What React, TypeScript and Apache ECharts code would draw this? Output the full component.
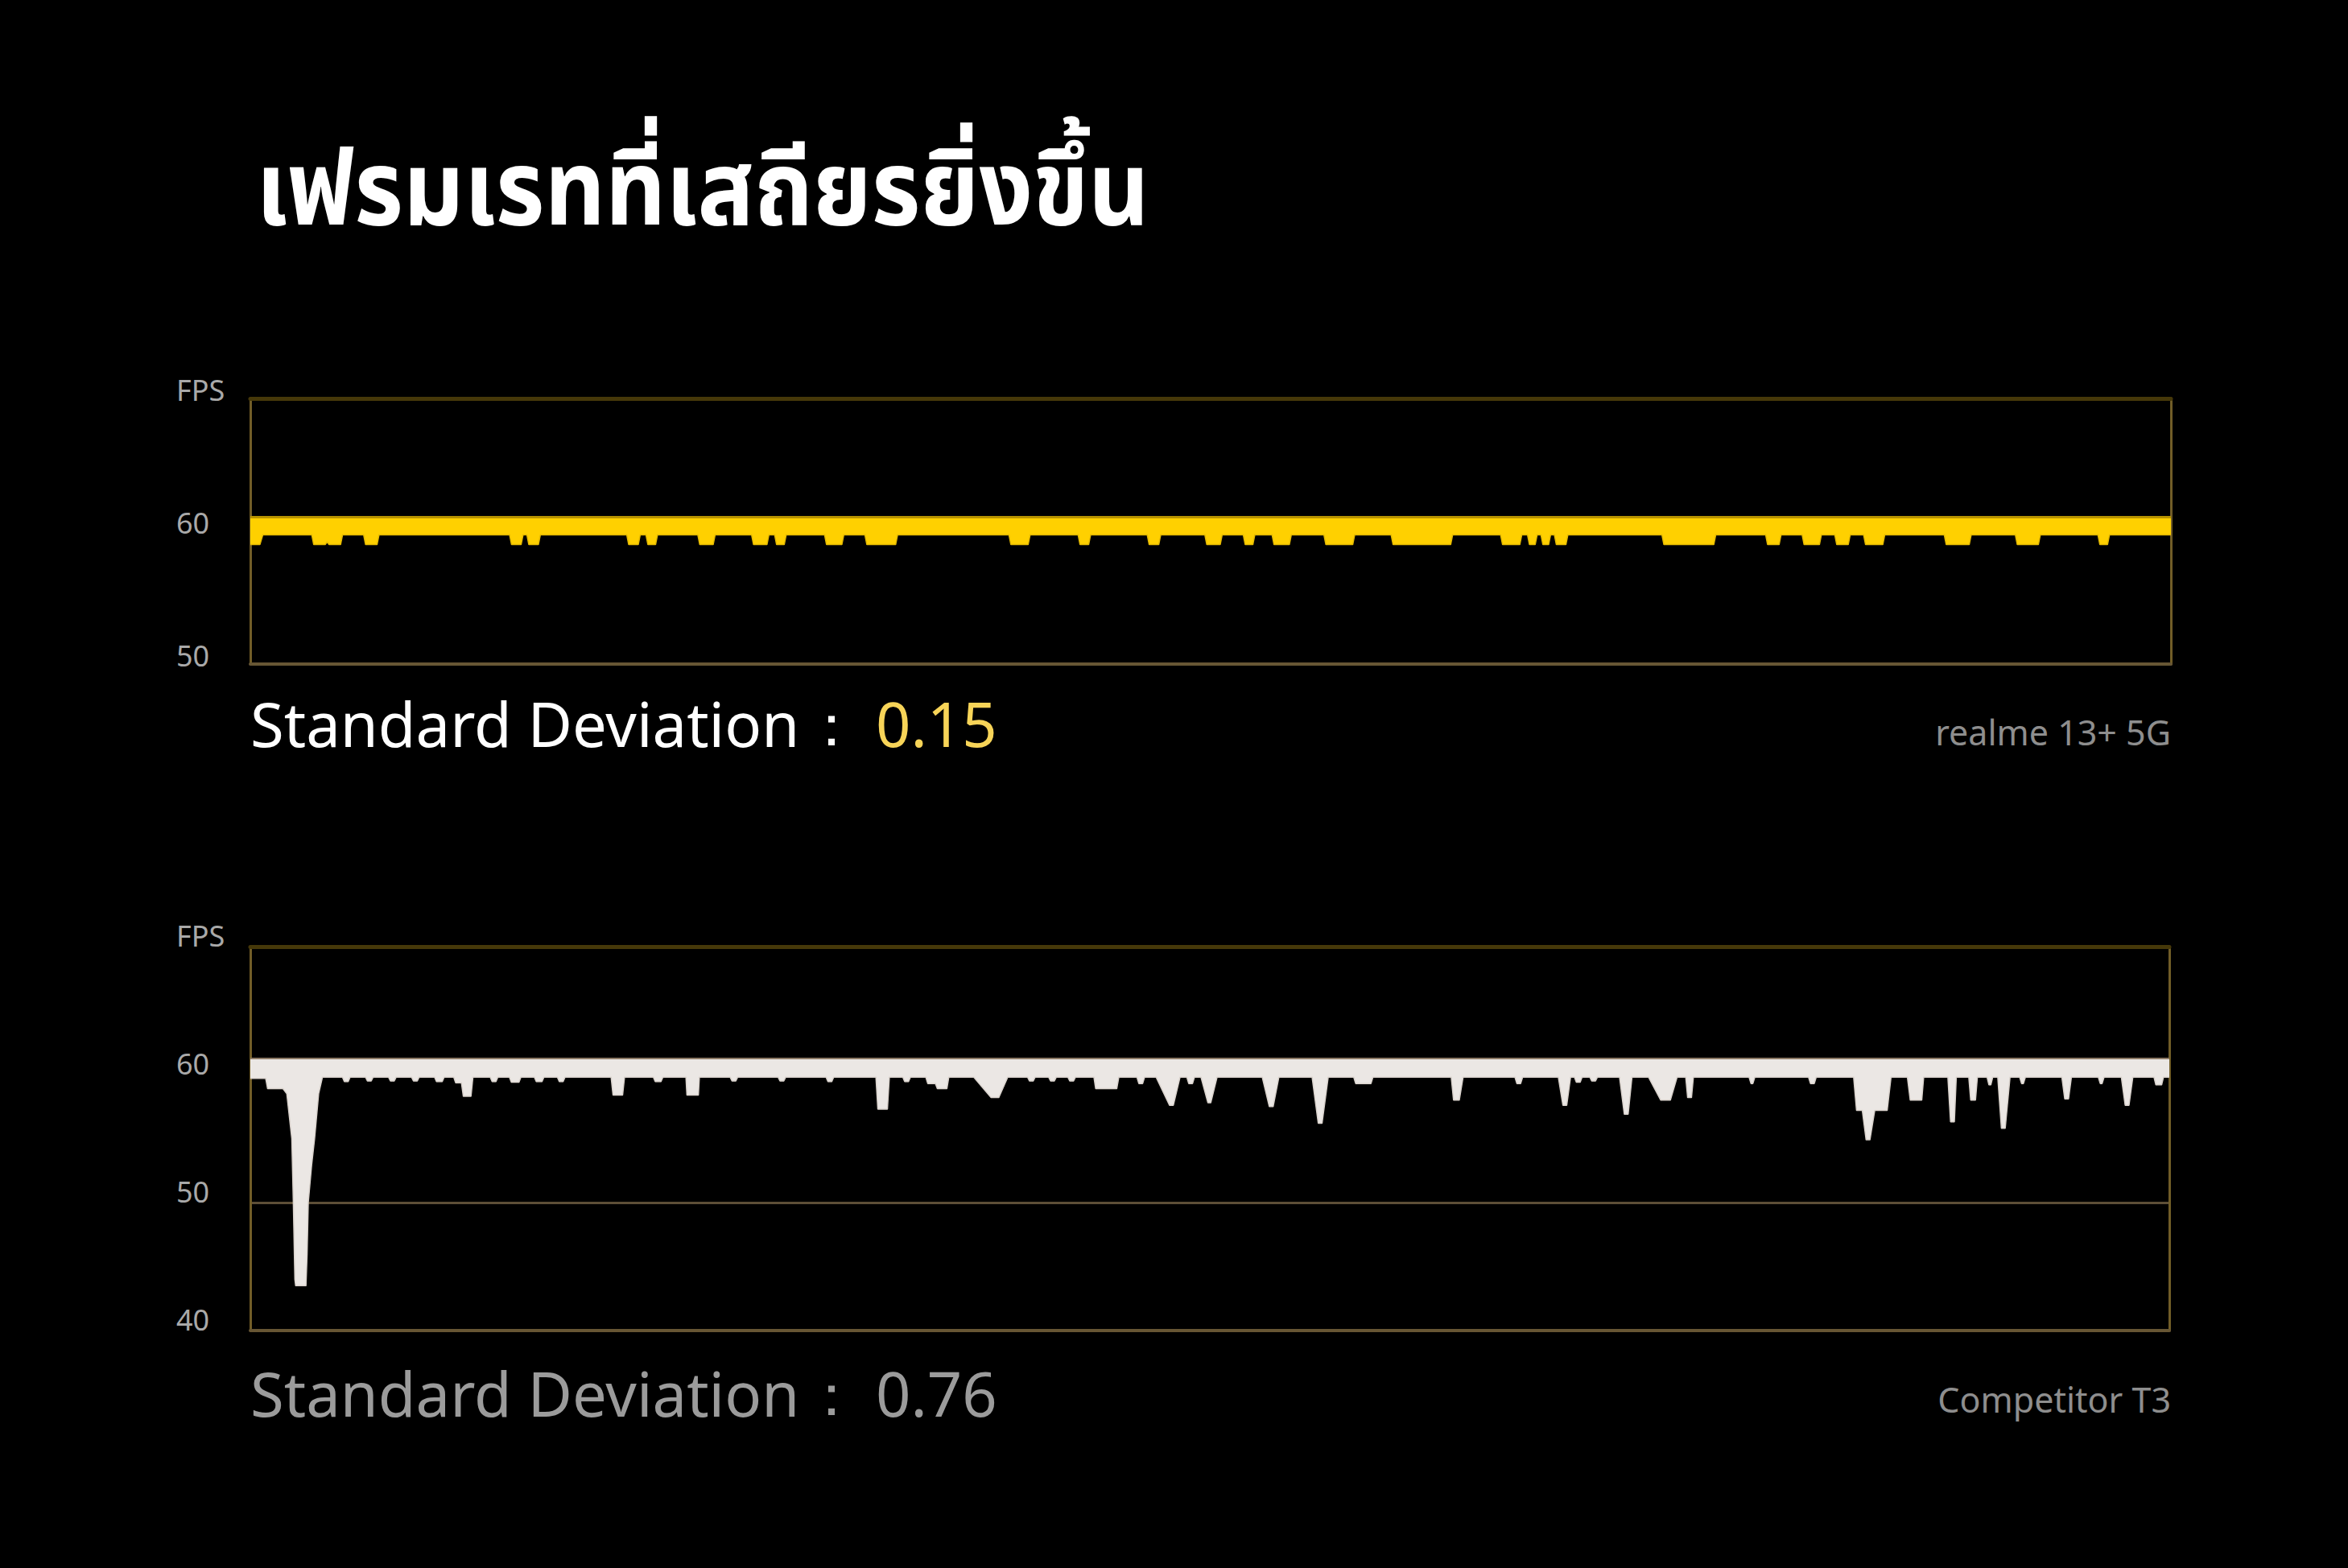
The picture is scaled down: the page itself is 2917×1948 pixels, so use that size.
import React, { useEffect, useRef } from "react";
import * as echarts from "echarts";

// ---------- texts ----------
const TITLE = "เฟรมเรทที่เสถียรยิ่งขึ้น";
const SD_LABEL = "Standard Deviation";
const SD_COLON = "：";
const DEVICE_NAMES = ["realme 13+ 5G", "Competitor T3"];
const SD_VALUES = ["0.15", "0.76"];
const Y_TOP_LABEL = "FPS";

// ---------- axes ----------
const realmeYRange = [50, 70];
const competitorYRange = [40, 70];
const Y_INTERVAL = 10;
const TIME_RANGE = [0, 1000];

// upper edge of the FPS band (flat)
const REALME_BAND_TOP = 61.08;
const COMPETITOR_BAND_TOP = 61.3;

// ---------- data: [time, fps] (lower edge of the band) ----------
const realmeFrames: [number, number][] = [
  [0, 59.0], [5, 59.0], [6.5, 59.72],
  [32, 59.72], [33, 59.0], [39, 59.0], [40, 59.2], [41, 59.0], [47, 59.0], [48, 59.72],
  [59, 59.72], [60, 59.0], [66, 59.0], [67, 59.72],
  [135, 59.72], [136, 59.0], [141, 59.0], [142, 59.72],
  [144, 59.72], [145, 59.0], [150, 59.0], [151, 59.72],
  [196, 59.72], [197, 59.0], [202, 59.0], [203, 59.72],
  [206, 59.72], [207, 59.0], [211, 59.0], [212, 59.72],
  [233, 59.72], [234, 59.0], [241, 59.0], [242, 59.72],
  [261, 59.72], [262, 59.0], [269, 59.0], [270, 59.72],
  [273, 59.72], [274, 59.0], [278, 59.0], [279, 59.72],
  [299, 59.72], [300, 59.0], [308, 59.0], [309, 59.72],
  [320, 59.72], [321, 59.0], [336, 59.0], [337, 59.72],
  [395, 59.72], [396, 59.0], [405, 59.0], [406, 59.72],
  [431, 59.72], [432, 59.0], [436.5, 59.0], [437.5, 59.72],
  [467, 59.72], [468, 59.0], [473, 59.0], [474, 59.72],
  [497, 59.72], [498, 59.0], [505, 59.0], [506, 59.72],
  [517, 59.72], [518, 59.0], [522, 59.0], [523, 59.72],
  [532, 59.72], [533, 59.0], [541, 59.0], [542, 59.72],
  [559, 59.72], [560, 59.0], [574, 59.0], [575, 59.72],
  [594, 59.72], [595, 59.0], [625, 59.0], [626, 59.72],
  [651, 59.72], [652, 59.0], [661, 59.0], [662, 59.72],
  [665, 59.72], [666, 59.0], [669, 59.0], [670, 59.72],
  [672, 59.72], [673, 59.0], [676, 59.0], [677, 59.72],
  [679, 59.72], [680, 59.0], [685, 59.0], [686, 59.72],
  [735, 59.72], [736, 59.0], [762, 59.0], [763, 59.72],
  [789, 59.72], [790, 59.0], [796, 59.0], [797, 59.72],
  [808, 59.72], [809, 59.0], [817, 59.0], [818, 59.72],
  [825, 59.72], [826, 59.0], [832, 59.0], [833, 59.72],
  [840, 59.72], [841, 59.0], [850, 59.0], [851, 59.72],
  [882, 59.72], [883, 59.0], [895, 59.0], [896, 59.72],
  [919, 59.72], [920, 59.0], [931, 59.0], [932, 59.72],
  [962, 59.72], [963, 59.0], [967, 59.0], [968, 59.72],
  [1000, 59.72],
];

const competitorFrames: [number, number][] = [
  [0, 59.7], [8, 59.7], [9, 58.9], [16, 58.9],
  [17, 58.9], [19, 58.5], [21.6, 55.0], [22.4, 50.0], [23.2, 44.0], [23.6, 43.5], [29, 43.5],
  [29.6, 46.0], [30.2, 50.0], [32, 53.0], [33.5, 55.0], [35.6, 58.5], [37.6, 59.8],
  [48, 59.8], [49, 59.45], [51, 59.45], [52, 59.8],
  [60, 59.8], [61, 59.5], [63, 59.5], [64, 59.8],
  [72, 59.8], [73, 59.5], [75, 59.5], [76, 59.8],
  [84, 59.8], [85, 59.5], [87, 59.5], [88, 59.8],
  [96, 59.8], [97, 59.45], [100, 59.45], [101, 59.8],
  [106, 59.8], [107, 59.35], [110, 59.35], [111, 58.3], [115, 58.3], [116, 59.8],
  [125, 59.8], [126, 59.45], [128, 59.45], [129, 59.8],
  [135, 59.8], [136, 59.4], [140, 59.4], [141, 59.8],
  [148, 59.8], [149, 59.45], [152, 59.45], [153, 59.8],
  [160, 59.8], [161, 59.45], [163, 59.45], [164, 59.8],
  [188, 59.8], [189, 58.4], [194, 58.4], [195, 59.8],
  [210, 59.8], [211, 59.45], [214, 59.45], [215, 59.8],
  [227, 59.8], [227.5, 58.4], [233.5, 58.4], [234, 59.8],
  [250, 59.8], [251, 59.5], [253, 59.5], [254, 59.8],
  [275, 59.8], [276, 59.5], [278, 59.5], [279, 59.8],
  [300, 59.8], [301, 59.45], [303, 59.45], [304, 59.8],
  [326, 59.8], [327, 57.3], [332, 57.3], [333, 59.8],
  [340, 59.8], [341, 59.45], [343, 59.45], [344, 59.8],
  [352, 59.8], [353, 59.3], [357, 59.3], [358, 58.9], [363, 58.9], [364, 59.8],
  [377, 59.8], [386, 58.2], [390, 58.2], [394.7, 59.8],
  [405, 59.8], [406, 59.5], [408, 59.5], [409, 59.8],
  [416, 59.8], [417, 59.5], [419, 59.5], [420, 59.8],
  [426, 59.8], [427, 59.5], [429, 59.5], [430, 59.8],
  [439.6, 59.8], [440.5, 58.9], [451.5, 58.9], [452.6, 59.8],
  [462, 59.8], [463, 59.3], [465, 59.3], [466, 59.8],
  [472, 59.8], [479, 57.6], [481, 57.6], [484.5, 59.8],
  [488, 59.8], [489, 59.3], [491, 59.3], [492, 59.8],
  [495.4, 59.8], [499, 57.8], [500.5, 57.8], [503.8, 59.8],
  [527.3, 59.8], [531, 57.5], [533, 57.5], [536, 59.8],
  [553.3, 59.8], [556.5, 56.2], [558.5, 56.2], [561.7, 59.8],
  [575, 59.8], [576, 59.3], [584, 59.3], [585, 59.8],
  [625.8, 59.8], [627, 58.0], [630, 58.0], [632, 59.8],
  [659, 59.8], [660, 59.3], [662, 59.3], [663, 59.8],
  [681.6, 59.8], [684, 57.6], [686, 57.6], [688, 59.8],
  [690, 59.8], [691, 59.4], [693, 59.4], [694, 59.8],
  [698, 59.8], [699, 59.5], [701, 59.5], [702, 59.8],
  [713.5, 59.8], [716, 56.9], [718, 56.9], [720, 59.8],
  [728.6, 59.8], [735, 58.0], [740, 58.0], [743.5, 59.8],
  [748, 59.8], [749, 58.2], [751, 58.2], [752, 59.8],
  [781, 59.8], [782, 59.3], [783, 59.3], [784, 59.8],
  [812, 59.8], [813, 59.3], [815, 59.3], [816, 59.8],
  [835.5, 59.8], [837, 57.2], [840, 57.2], [842, 54.9], [844, 54.9], [846.5, 57.2], [853, 57.2], [855, 59.8],
  [863.5, 59.8], [865, 58.0], [871, 58.0], [872, 59.8],
  [884.6, 59.8], [886, 56.3], [888, 56.3], [889, 59.8],
  [895.5, 59.8], [896.5, 58.0], [899, 58.0], [900, 59.8],
  [905, 59.8], [906, 59.2], [907, 59.2], [908, 59.8],
  [910.6, 59.8], [912.5, 55.8], [914.5, 55.8], [917, 59.8],
  [922, 59.8], [923, 59.3], [924, 59.3], [925, 59.8],
  [944, 59.8], [945.5, 58.1], [947.5, 58.1], [949, 59.8],
  [963, 59.8], [964, 59.3], [965, 59.3], [966, 59.8],
  [975, 59.8], [977, 57.6], [979, 57.6], [981, 59.8],
  [992, 59.8], [993, 59.2], [996, 59.2], [997, 59.8],
  [1000, 59.8],
];

// ---------- styles ----------
const FONT = "'Noto Sans', 'Open Sans', sans-serif";
const THAI_FONT = "'Noto Sans Thai', 'Noto Sans Thai UI', 'Noto Sans', sans-serif";
const SIDE_BORDER = "#715d27";
const TOP_BORDER = "#463809";
const BOTTOM_BORDER = "#675634";
const LABEL_GRAY = "#a9a9a9";

function xAxes(gridIndex: number) {
  const base = {
    gridIndex,
    type: "value",
    min: TIME_RANGE[0],
    max: TIME_RANGE[1],
    axisTick: { show: false },
    axisLabel: { show: false },
    splitLine: { show: false },
  };
  return [
    { ...base, position: "bottom", axisLine: { show: true, onZero: false, lineStyle: { color: BOTTOM_BORDER, width: 4 } } },
    { ...base, position: "top", axisLine: { show: true, onZero: false, lineStyle: { color: TOP_BORDER, width: 5 } } },
  ];
}

function yAxes(gridIndex: number, range: number[], labelShift: number, splitColors: string[] | null) {
  const base = {
    gridIndex,
    type: "value",
    min: range[0],
    max: range[1],
    interval: Y_INTERVAL,
    axisTick: { show: false },
  };
  return [
    {
      ...base,
      position: "left",
      axisLine: { show: true, onZero: false, lineStyle: { color: SIDE_BORDER, width: 3 } },
      axisLabel: {
        show: true,
        formatter: (v: number) => "{l|" + (v === range[1] ? Y_TOP_LABEL : String(v)) + "}",
        align: "left",
        margin: 92,
        rich: {
          l: {
            color: LABEL_GRAY,
            fontSize: 36,
            fontFamily: FONT,
            align: "left",
            padding: [0, 0, labelShift, 0],
          },
        },
      },
      splitLine: splitColors
        ? { show: true, lineStyle: { color: splitColors, width: 3 } }
        : { show: false },
    },
    {
      ...base,
      position: "right",
      axisLine: { show: true, onZero: false, lineStyle: { color: SIDE_BORDER, width: 3 } },
      axisLabel: { show: false },
      splitLine: { show: false },
    },
  ];
}

function text(
  x: number,
  y: number,
  str: string,
  fill: string,
  fontSize: number,
  align: string,
  family = FONT,
  weight = "normal",
  scaleX = 1
) {
  return {
    type: "text",
    x,
    y,
    scaleX,
    silent: true,
    style: {
      text: str,
      fill,
      fontSize,
      fontFamily: family,
      fontWeight: weight,
      align,
      verticalAlign: "middle",
      textAlign: align,
      textVerticalAlign: "middle",
    },
  };
}

function bandTopLine(value: number, color: string, width: number) {
  return {
    silent: true,
    symbol: ["none", "none"],
    label: { show: false },
    lineStyle: { color, width, type: "solid" },
    data: [{ yAxis: value }],
  };
}

export default function App() {
  const ref = useRef<HTMLDivElement>(null);

  useEffect(() => {
    if (!ref.current) return;
    const chart = echarts.init(ref.current, null, { renderer: "svg" });
    const none = "rgba(0,0,0,0)";
    const option: any = {
      animation: false,
      backgroundColor: "#000000",
      grid: [
        { left: 311, top: 495, width: 2386, height: 330, outerBoundsMode: "none" },
        { left: 311, top: 1176, width: 2384, height: 477, outerBoundsMode: "none" },
      ],
      xAxis: [...xAxes(0), ...xAxes(1)],
      yAxis: [
        ...yAxes(0, realmeYRange, 22, null),
        ...yAxes(1, competitorYRange, 27, [none, "#5d4f37", none, none]),
      ],
      series: [
        {
          name: DEVICE_NAMES[0],
          type: "line",
          xAxisIndex: 0,
          yAxisIndex: 0,
          data: realmeFrames,
          symbol: "none",
          silent: true,
          lineStyle: { width: 1.5, color: "#e6bb00" },
          areaStyle: { color: "#ffd000", opacity: 1, origin: REALME_BAND_TOP },
          markLine: bandTopLine(REALME_BAND_TOP, "#b89300", 3),
        },
        {
          name: DEVICE_NAMES[1],
          type: "line",
          xAxisIndex: 2,
          yAxisIndex: 2,
          data: competitorFrames,
          symbol: "none",
          silent: true,
          lineStyle: { width: 1.5, color: "#d9d2cc" },
          areaStyle: { color: "#ebe7e4", opacity: 1, origin: COMPETITOR_BAND_TOP },
          markLine: bandTopLine(COMPETITOR_BAND_TOP, "#8c7a66", 2),
        },
      ],
      graphic: [
        text(318, 240, TITLE, "#ffffff", 130, "left", THAI_FONT, "bold", 0.9),
        text(311, 898, SD_LABEL, "#ffffff", 76, "left"),
        text(1033, 898, SD_COLON, "#ffffff", 72, "center"),
        text(1088, 898, SD_VALUES[0], "#f7d458", 76, "left"),
        text(2697, 909, DEVICE_NAMES[0], "#8e8e8e", 43, "right"),
        text(311, 1730, SD_LABEL, "#9b9b9b", 76, "left"),
        text(1033, 1730, SD_COLON, "#9b9b9b", 72, "center"),
        text(1088, 1730, SD_VALUES[1], "#9b9b9b", 76, "left"),
        text(2697, 1738, DEVICE_NAMES[1], "#8e8e8e", 43, "right"),
      ],
    };
    chart.setOption(option);
    return () => chart.dispose();
  }, []);

  return (
    <div
      ref={ref}
      style={{ position: "fixed", left: 0, top: 0, width: 2917, height: 1948, background: "#000" }}
    />
  );
}
